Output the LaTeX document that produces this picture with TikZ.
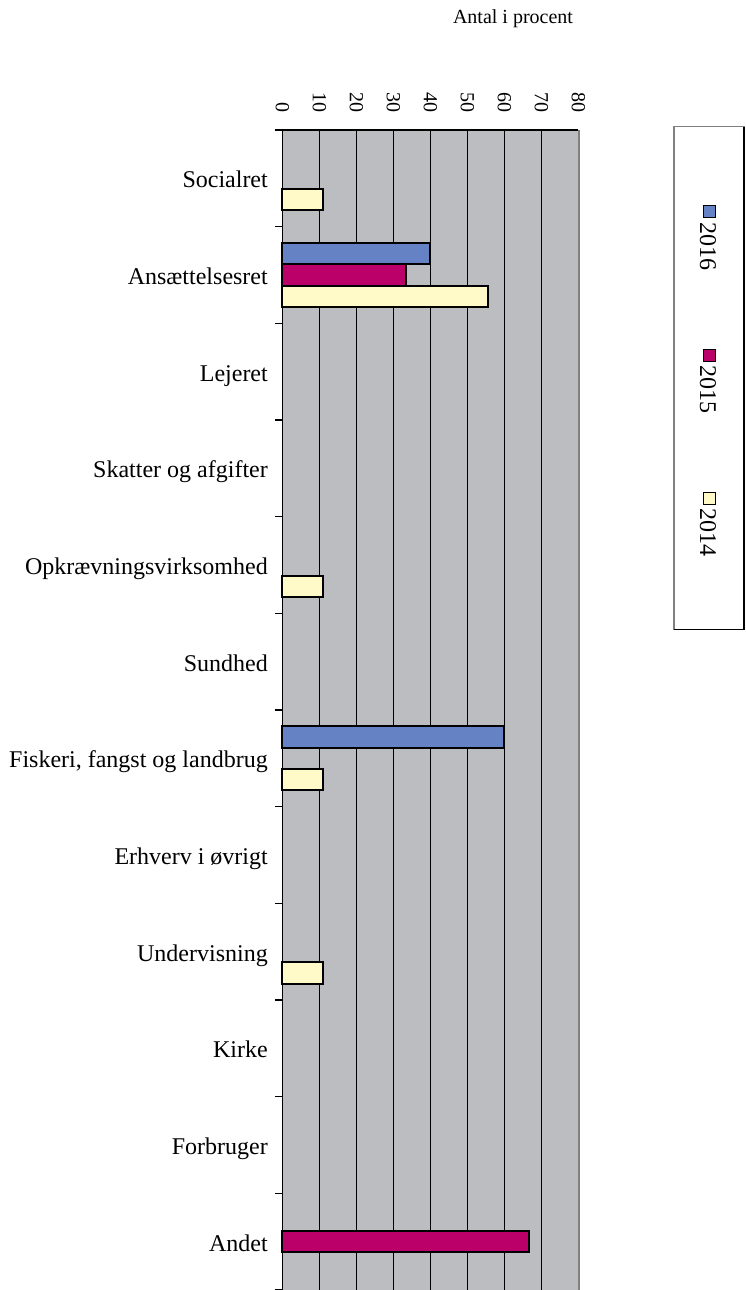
\documentclass[tikz,border=0pt]{standalone}
\usepackage{fontspec}
\setmainfont{Liberation Serif}
\definecolor{plotgrey}{RGB}{188,189,193}
\definecolor{edgegrey}{RGB}{128,128,128}
\definecolor{cblue}{RGB}{100,130,196}
\definecolor{cmag}{RGB}{187,0,106}
\definecolor{cyel}{RGB}{255,250,200}
\tikzset{
  bar/.style={draw=black, line width=2pt},
  grid line/.style={draw=black, line width=1.2pt},
  cat label/.style={anchor=base east, inner sep=0pt, font=\fontsize{24}{28}\selectfont},
  tick label/.style={anchor=east, rotate=-90, inner sep=0pt, font=\fontsize{20}{24}\selectfont},
  legend text/.style={anchor=west, rotate=-90, inner sep=0pt, font=\fontsize{24}{28}\selectfont},
  legend key/.style={draw=black, line width=1.2pt, minimum width=12pt, minimum height=12pt, inner sep=0pt}
}
\begin{document}
\begin{tikzpicture}[x=1pt,y=-1pt]
\useasboundingbox (0,0) rectangle (746,1290);
% title
\node[anchor=base, inner sep=0pt, font=\fontsize{20}{24}\selectfont] (title) at (513,24) {Antal i procent};
% plot area
\fill[plotgrey] (282.3,130) rectangle (578.3,1290);
\foreach \v in {10,20,...,70} {
  \draw[grid line] ({282.3+\v*3.7},130) -- ({282.3+\v*3.7},1290);
}
\draw[edgegrey, line width=2pt] (579,130) -- (579,1290);
\draw[grid line] (275,130) -- (578.3,130);
\draw[grid line] (282.3,130) -- (282.3,1290);
\foreach \k in {1,...,12} {
  \draw[grid line] (275,{130+\k*96.667}) -- (282.3,{130+\k*96.667});
}
% axis numbers
\foreach \v in {0,10,...,80} {
  \node[tick label] (n\v) at ({282.3+\v*3.7},113) {\v};
}
% category labels
\foreach \lab [count=\i from 0] in {Socialret,Ansættelsesret,Lejeret,Skatter og afgifter,Opkrævningsvirksomhed,Sundhed,{Fiskeri, fangst og landbrug},Erhverv i øvrigt,Undervisning,Kirke,Forbruger,Andet} {
  \node[cat label] (c\i) at (268,{130+\i*96.667+48.33+9.5}) {\lab};
}
% bars: \k category, series offset, value, colour
\foreach \k/\s/\v/\c in {0/2/11.11/cyel, 1/0/40/cblue, 1/1/33.33/cmag, 1/2/55.56/cyel, 4/2/11.11/cyel, 6/0/60/cblue, 6/2/11.11/cyel, 8/2/11.11/cyel, 11/1/66.67/cmag} {
  \filldraw[bar, fill=\c] (282.3,{130+\k*96.667+16.3+\s*21.33}) rectangle ({282.3+\v*3.7},{130+\k*96.667+16.3+(\s+1)*21.33});
}
% legend
\draw[draw=edgegrey, fill=white, line width=1.2pt] (674,126.7) rectangle (744,629.3);
\draw[black, line width=1.2pt] (674,629.3) -- (744,629.3) -- (744,126.7);
\node[legend key, fill=cblue] (k1) at (709.3,211.5) {};
\node[legend text] (l1) at (708,222) {2016};
\node[legend key, fill=cmag] (k2) at (709.3,355.5) {};
\node[legend text] (l2) at (708,365) {2015};
\node[legend key, fill=cyel] (k3) at (709.3,498.5) {};
\node[legend text] (l3) at (708,508) {2014};
\end{tikzpicture}
\end{document}
